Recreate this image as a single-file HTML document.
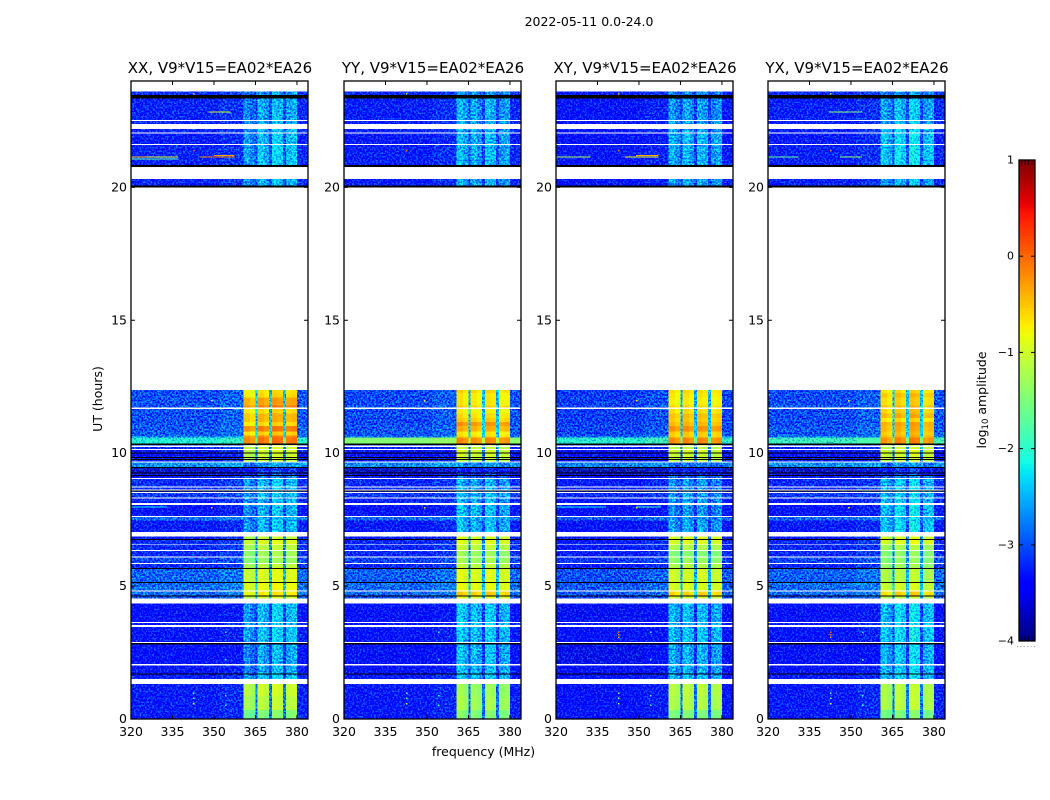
<!DOCTYPE html>
<html lang="en">
<head>
<meta charset="utf-8">
<title>2022-05-11 0.0-24.0</title>
<style>
html,body{margin:0;padding:0;background:#fff;}
svg{display:block;}
text{font-family:"DejaVu Sans","Liberation Sans",sans-serif;fill:#000;}
</style>
</head>
<body>
<svg id="figure" xmlns="http://www.w3.org/2000/svg" width="1050" height="800" viewBox="0 0 1050 800">
  <defs>
    <filter id="speckle" filterUnits="userSpaceOnUse" x="0" y="0" width="1050" height="800" color-interpolation-filters="sRGB">
      <feTurbulence type="fractalNoise" baseFrequency="0.55" numOctaves="2" seed="7" result="t"/>
      <feColorMatrix in="t" type="matrix" values="0.5 0 0 0 0.25  3 0 0 0 -1  0 0 0 0 0.5  0 0 0 0 1" result="n"/>
      <feComposite in="SourceGraphic" in2="n" operator="arithmetic" k1="0" k2="1" k3="0.7" k4="-0.35" result="m"/>
      <feComposite in="m" in2="SourceAlpha" operator="in"/>
    </filter>
  </defs>
  <text x="589" y="26" font-size="12.5" text-anchor="middle">2022-05-11 0.0-24.0</text>
  <text x="483.5" y="756" font-size="12.5" text-anchor="middle">frequency (MHz)</text>
  <text x="0" y="0" font-size="12.5" text-anchor="middle" transform="translate(102,399) rotate(-90)">UT (hours)</text>
  <g id="panels"></g>
  <g id="colorbar"></g>
  <text x="0" y="0" font-size="12.5" text-anchor="middle" transform="translate(986,400) rotate(-90)">log<tspan font-size="8.5" dy="2">10</tspan><tspan dy="-2"> amplitude</tspan></text>
</svg>
<script>
const _ = null, K = -9;

const polarizations = ['XX','YY','XY','YX'];
const panelTitles = ['XX, V9*V15=EA02*EA26','YY, V9*V15=EA02*EA26','XY, V9*V15=EA02*EA26','YX, V9*V15=EA02*EA26'];
const freqTicks = [320,335,350,365,380];
const hourTicks = [0,5,10,15,20];
const colorTicks = [1,0,-1,-2,-3,-4];

const rowEdges = [
  23.61,23.48,23.34,22.54,22.50,22.38,22.20,22.07,22.03,21.63,21.60,20.84,20.76,20.32,20.06,20.00,
  12.38,12.26,12.09,11.79,11.72,11.66,11.50,11.32,11.18,11.03,10.81,10.66,10.58,10.36,
  10.31,10.28,10.24,10.16,10.12,10.03,9.99,9.86,9.82,9.78,9.74,9.68,
  9.64,9.48,9.44,9.28,9.24,9.18,9.15,9.06,9.02,8.75,8.71,8.63,8.60,8.56,8.54,8.50,8.33,8.30,8.13,8.05,7.63,7.59,7.47,7.04,
  6.87,6.78,6.74,6.57,6.54,6.36,6.32,6.11,6.07,5.87,5.83,5.68,5.64,5.15,5.12,4.84,4.80,4.64,4.60,4.53,
  4.34,3.65,3.61,3.54,3.46,2.89,2.85,2.80,2.06,2.02,1.72,1.68,1.50,
  1.32,0.87,0.34,0
];

const backgroundLevels = [
  -3.2,_,-3.25,_,-3.25,_,-3.25,_,-3.3,_,-3.25,_,_,-3.25,_,_,
  -3.0,-3.0,-3.0,-2.95,_,-3.0,-3.0,-3.0,-3.0,-2.95,-2.95,-2.8,-2.05,_,
  -3.25,_,-3.2,_,-3.3,_,-3.4,_,-3.4,_,-3.3,_,
  -2.65,_,-3.7,_,-3.4,_,-3.3,_,-3.2,_,-3.2,_,_,-3.2,_,-3.1,_,-3.25,_,-3.35,_,-2.85,-3.3,_,
  -3.3,_,-3.2,_,-3.2,_,-3.2,_,-3.05,_,-3.2,_,-2.9,_,-2.85,_,-2.85,_,-3.0,_,
  -3.4,_,-3.3,_,-3.35,_,_,-3.45,_,-3.35,_,-3.3,_,
  -3.3,-3.3,-3.3
];
const backgroundShiftXX = 0;
const backgroundShiftYY = -0.03;
const backgroundShiftXY = -0.1;
const backgroundShiftYX = -0.02;
const tenHourBandLevels = [-2.05,-1.45,-2.0,-1.9];
const tenHourBandRow = 28;
const quietSignalOffset = -0.2;
const brightShapeScale = 0.6;

const signalXX = [
  -2.5,K,-2.4,_,-2.35,_,-2.3,_,-2.3,_,-2.25,K,_,-2.35,K,_,
  -.7,-.65,-.35,-.15,_,-.65,-.45,-.45,-.65,-.15,-.6,-.2,-.1,K,
  -1.05,_,-1.0,_,-1.0,K,-1.05,K,-1.1,K,-1.1,_,
  -2.5,K,-3.0,K,-2.9,K,-2.6,_,-2.3,_,-2.3,_,K,-2.3,_,-2.3,_,-2.35,_,-2.35,_,-2.4,-2.3,_,
  -1.1,K,-.95,_,-1.15,_,-1.3,_,-1.35,_,-1.15,K,-.95,K,-.85,_,-.75,K,-1.0,_,
  -2.3,_,-2.3,_,-2.25,_,K,-2.4,_,-2.4,K,-2.25,_,
  -1.05,-1.15,-1.5
];
const signalYY = [
  -2.45,K,-2.35,_,-2.35,_,-2.3,_,-2.3,_,-2.3,K,_,-2.35,K,_,
  -.6,-.7,-.7,-.55,_,-.75,-.65,-.55,-.25,-.4,-.7,-.6,-.2,K,
  -1.1,_,-1.05,_,-.95,K,-1.0,K,-1.1,K,-1.1,_,
  -2.5,K,-3.0,K,-2.9,K,-2.7,_,-2.35,_,-2.3,_,K,-2.3,_,-2.25,_,-2.3,_,-2.25,_,-2.3,-2.25,_,
  -.95,K,-.9,_,-1.1,_,-1.3,_,-1.25,_,-1.1,K,-.9,K,-.85,_,-.55,K,-.9,_,
  -2.2,_,-2.2,_,-2.2,_,K,-2.25,_,-2.25,K,-2.2,_,
  -1.3,-1.25,-1.45
];
const signalXY = [
  -2.55,K,-2.45,_,-2.4,_,-2.4,_,-2.3,_,-2.35,K,_,-2.4,K,_,
  -.65,-.7,-.75,-.6,_,-.65,-.5,-.55,-.45,-.25,-.55,-.55,-.2,K,
  -1.05,_,-1.1,_,-1.0,K,-1.05,K,-1.1,K,-1.15,_,
  -2.7,K,-3.1,K,-3.0,K,-2.7,_,-2.5,_,-2.5,_,K,-2.5,_,-2.45,_,-2.45,_,-2.5,_,-2.5,-2.4,_,
  -.95,K,-.95,_,-1.2,_,-1.45,_,-1.35,_,-1.2,K,-1.0,K,-.95,_,-.6,K,-1.0,_,
  -2.3,_,-2.3,_,-2.25,_,K,-2.35,_,-2.35,K,-2.25,_,
  -1.15,-1.2,-1.5
];
const signalYX = [
  -2.45,K,-2.3,_,-2.3,_,-2.2,_,-2.15,_,-2.1,K,_,-2.3,K,_,
  -.65,-.5,-.6,-.45,_,-.55,-.4,-.65,-.35,-.4,-.5,-.4,-.2,K,
  -1.05,_,-1.05,_,-.95,K,-1.0,K,-1.05,K,-1.1,_,
  -2.55,K,-3.0,K,-2.9,K,-2.6,_,-2.2,_,-2.2,_,K,-2.25,_,-2.2,_,-2.2,_,-2.15,_,-2.2,-2.1,_,
  -.95,K,-.9,_,-1.25,_,-1.4,_,-1.4,_,-1.3,K,-1.15,K,-1.0,_,-.6,K,-1.1,_,
  -2.15,_,-2.15,_,-2.1,_,K,-2.2,_,-2.2,K,-2.15,_,
  -1.15,-1.15,-1.5
];

const channelEdges = [320,352,360.6,363,365,365.7,368,369.9,371,373,375,376,378,380,384];
const channelKinds = ['bg','edge','sig','sig','gap','sig','sig','gap','sig','sig','gap','sig','sig','bg'];
const channelBand = [_,_,0,0,_,1,1,_,2,2,_,3,3,_];
const channelShape = [0,0.1,0,-0.2,0,0.12,-0.08,0,0.1,0,0,-0.05,0.05,0.05];

const bandTiltXX = [-0.1,0,0.1,0.05];
const bandTiltYY = [0.1,-0.1,0,-0.1];
const bandTiltXY = [0.05,0,0,-0.05];
const bandTiltYX = [-0.05,0,0.1,-0.1];

const streakPol = ['XX','XX','XX','XX','XX','XX','XY','XY','XY','YX','YX','YX','XX','XY','XY'];
const streakFrom = [320,320,345,350,348,320,320,345,349,320,346,342,320,320,349];
const streakTo = [337,326,357.5,357.5,356,337,332.5,357,357,331,354,354,333,338,358];
const streakHour = [21.14,21.14,21.14,21.2,22.84,21.07,21.14,21.14,21.2,21.14,21.14,22.84,7.98,7.98,7.98];
const streakLevel = [-0.9,-0.5,-0.1,-0.3,-1.0,-1.7,-1.2,-0.8,-0.4,-1.6,-1.4,-1.5,-2.2,-2.2,-1.9];

const spotFreq = [342.5,342.5,342.5,342.5,342.5,354,354,342.5,342.5,342.5,354,354,349,349];
const spotHour = [3.3,3.2,3.1,23.55,21.4,3.3,2.25,1.0,0.8,0.6,0.9,0.55,12.0,7.98];
const spotLevel = [0,-0.1,-0.3,-0.4,0,-1.9,-1.9,-1.5,-1.5,-1.0,-1.8,-1.8,-0.7,-0.6];

const signalByPol = [signalXX,signalYY,signalXY,signalYX];
const tiltByPol = [bandTiltXX,bandTiltYY,bandTiltXY,bandTiltYX];
const shiftByPol = [backgroundShiftXX,backgroundShiftYY,backgroundShiftXY,backgroundShiftYX];

const panelLeft = [131,344,556,768];
const panelWidth = 177, plotTop = 81, plotBottom = 719;
const NS = 'http://www.w3.org/2000/svg';

function make(tag, parent){
  const el = document.createElementNS(NS, tag);
  parent.appendChild(el);
  return el;
}
function setAll(el, attrs){
  for (const k in attrs) el.setAttribute(k, attrs[k]);
}
function xScale(p, f){ return panelLeft[p] + (f - 320) / 64 * panelWidth; }
function yScale(h){ return plotBottom - h / 24 * (plotBottom - plotTop); }
function interp(pts, t){
  for (let i = 1; i < pts.length; i++){
    if (t <= pts[i][0]){
      const a = pts[i-1], b = pts[i];
      return a[1] + (b[1]-a[1]) * (t-a[0]) / (b[0]-a[0]);
    }
  }
  return pts[pts.length-1][1];
}
function jet(v){
  const t = Math.max(0, Math.min(1, (v + 4) / 5));
  const r = interp([[0,0],[.35,0],[.66,1],[.89,1],[1,.5]], t);
  const g = interp([[0,0],[.125,0],[.375,1],[.64,1],[.91,0],[1,0]], t);
  const b = interp([[0,.5],[.11,1],[.34,1],[.65,0],[1,0]], t);
  return 'rgb(' + Math.round(r*255) + ',' + Math.round(g*255) + ',' + Math.round(b*255) + ')';
}
function levelFor(p, row, ch){
  const sig = signalByPol[p][row];
  let bg = backgroundLevels[row] + shiftByPol[p];
  if (row === tenHourBandRow) bg = tenHourBandLevels[p];
  const kind = channelKinds[ch];
  if (kind === 'bg' || kind === 'edge') return bg + channelShape[ch];
  if (kind === 'gap') return bg + 0.25 * (sig - bg);
  const bright = sig > -1.8;
  const base = bright ? sig : sig + quietSignalOffset;
  const scale = bright ? brightShapeScale : 1;
  return base + (channelShape[ch] + tiltByPol[p][channelBand[ch]]) * scale;
}

const panelsRoot = document.getElementById('panels');
polarizations.forEach(function(pol, p){
  const panel = make('g', panelsRoot);
  
  

  const noisy = make('g', panel);
  
  
  noisy.setAttribute('filter', 'url(#speckle)');
  noisy.setAttribute('shape-rendering', 'crispEdges');
  const smooth = make('g', panel);
  
  
  smooth.setAttribute('shape-rendering', 'crispEdges');
  const marks = make('g', panel);
  
  
  marks.setAttribute('shape-rendering', 'crispEdges');

  const sigRows = signalByPol[p];
  sigRows.forEach(function(sig, row){
    if (sig === null) return;
    const yTop = yScale(rowEdges[row]);
    const yBot = yScale(rowEdges[row + 1]);
    if (sig === K){
      const bar = make('rect', marks);
      
      
      setAll(bar, {x: xScale(p,320), y: yTop, width: panelWidth, height: yBot - yTop, fill: '#000'});
      return;
    }
    channelKinds.forEach(function(kind, ch){
      const v = levelFor(p, row, ch);
      const cell = make('rect', v > -1.8 ? smooth : noisy);
      
      
      const x0 = xScale(p, channelEdges[ch]);
      const x1 = xScale(p, channelEdges[ch + 1]);
      setAll(cell, {x: x0, y: yTop, width: x1 - x0, height: yBot - yTop, fill: jet(v)});
    });
  });

  streakPol.forEach(function(sp, i){
    if (sp !== pol) return;
    const line = make('rect', marks);
    
    
    const x0 = xScale(p, streakFrom[i]);
    setAll(line, {x: x0, y: yScale(streakHour[i] + 0.02), width: xScale(p, streakTo[i]) - x0, height: 1, fill: jet(streakLevel[i])});
  });
  spotFreq.forEach(function(f, i){
    if (p < 2 && i < 3) return;
    const spot = make('rect', marks);
    
    
    setAll(spot, {x: xScale(p, f), y: yScale(spotHour[i]), width: 1.5, height: 1.5, fill: jet(spotLevel[i])});
  });

  const frame = make('rect', panel);
  
  
  setAll(frame, {x: panelLeft[p], y: plotTop, width: panelWidth, height: plotBottom - plotTop, fill: 'none', stroke: '#000', 'stroke-width': 1.3});

  freqTicks.forEach(function(f){
    const x = xScale(p, f);
    const t1 = make('line', panel);
    
    
    setAll(t1, {x1: x, x2: x, y1: plotBottom, y2: plotBottom - 4, stroke: '#000', 'stroke-width': 1});
    const t2 = make('line', panel);
    
    
    setAll(t2, {x1: x, x2: x, y1: plotTop, y2: plotTop + 4, stroke: '#000', 'stroke-width': 1});
    const lab = make('text', panel);
    
    
    setAll(lab, {x: x, y: 736, 'font-size': 12.5, 'text-anchor': 'middle'});
    lab.textContent = String(f);
  });
  hourTicks.forEach(function(h){
    const y = yScale(h);
    const t1 = make('line', panel);
    
    
    setAll(t1, {x1: panelLeft[p], x2: panelLeft[p] + 4, y1: y, y2: y, stroke: '#000', 'stroke-width': 1});
    const t2 = make('line', panel);
    
    
    setAll(t2, {x1: panelLeft[p] + panelWidth, x2: panelLeft[p] + panelWidth - 4, y1: y, y2: y, stroke: '#000', 'stroke-width': 1});
    const lab = make('text', panel);
    
    
    setAll(lab, {x: panelLeft[p] - 4, y: y + 4, 'font-size': 12.5, 'text-anchor': 'end'});
    lab.textContent = String(h);
  });

  const title = make('text', panel);
  
  
  setAll(title, {x: panelLeft[p] + panelWidth / 2 + 0.5, y: 73, 'font-size': 15, 'text-anchor': 'middle'});
  title.textContent = panelTitles[p];
});

const cbLeft = 1019, cbWidth = 16, cbTop = 160, cbBottom = 641;
function cbY(v){ return cbBottom - (v + 4) / 5 * (cbBottom - cbTop); }
const cbRoot = document.getElementById('colorbar');
const ramp = make('g', cbRoot);


ramp.setAttribute('shape-rendering', 'crispEdges');
for (let step = 0; step < 160; step++){
  const v0 = -4 + step * 5 / 160;
  const v1 = -4 + (step + 1) * 5 / 160;
  const slice = make('rect', ramp);
  
  
  setAll(slice, {x: cbLeft, y: cbY(v1), width: cbWidth, height: cbY(v0) - cbY(v1) + 0.6, fill: jet((v0 + v1) / 2)});
}
const cbFrame = make('rect', cbRoot);


setAll(cbFrame, {x: cbLeft, y: cbTop, width: cbWidth, height: cbBottom - cbTop, fill: 'none', stroke: '#000', 'stroke-width': 1.3});
colorTicks.forEach(function(v){
  const y = cbY(v);
  const a = make('line', cbRoot);
  
  
  setAll(a, {x1: cbLeft, x2: cbLeft + 4, y1: y, y2: y, stroke: '#000', 'stroke-width': 1});
  const b = make('line', cbRoot);
  
  
  setAll(b, {x1: cbLeft + cbWidth, x2: cbLeft + cbWidth - 4, y1: y, y2: y, stroke: '#000', 'stroke-width': 1});
  const lab = make('text', cbRoot);
  
  
  setAll(lab, {x: 1014, y: y + 3.5, 'font-size': 11, 'text-anchor': 'end'});
  lab.textContent = v < 0 ? '\u2212' + Math.abs(v) : String(v);
});
[0.17,0.38,0.59,0.8].forEach(function(frac){
  const x = cbLeft + frac * cbWidth;
  const top = make('line', cbRoot);
  
  
  setAll(top, {x1: x, x2: x, y1: cbTop, y2: cbTop + 5, stroke: '#000', 'stroke-width': 0.8});
  const bot = make('line', cbRoot);
  
  
  setAll(bot, {x1: x, x2: x, y1: cbBottom, y2: cbBottom - 5, stroke: '#000', 'stroke-width': 0.8});
});
const dots = make('line', cbRoot);


setAll(dots, {x1: 1017, x2: 1035, y1: 646.5, y2: 646.5, stroke: '#999', 'stroke-width': 1, 'stroke-dasharray': '1 2.4'});
</script>
</body>
</html>
